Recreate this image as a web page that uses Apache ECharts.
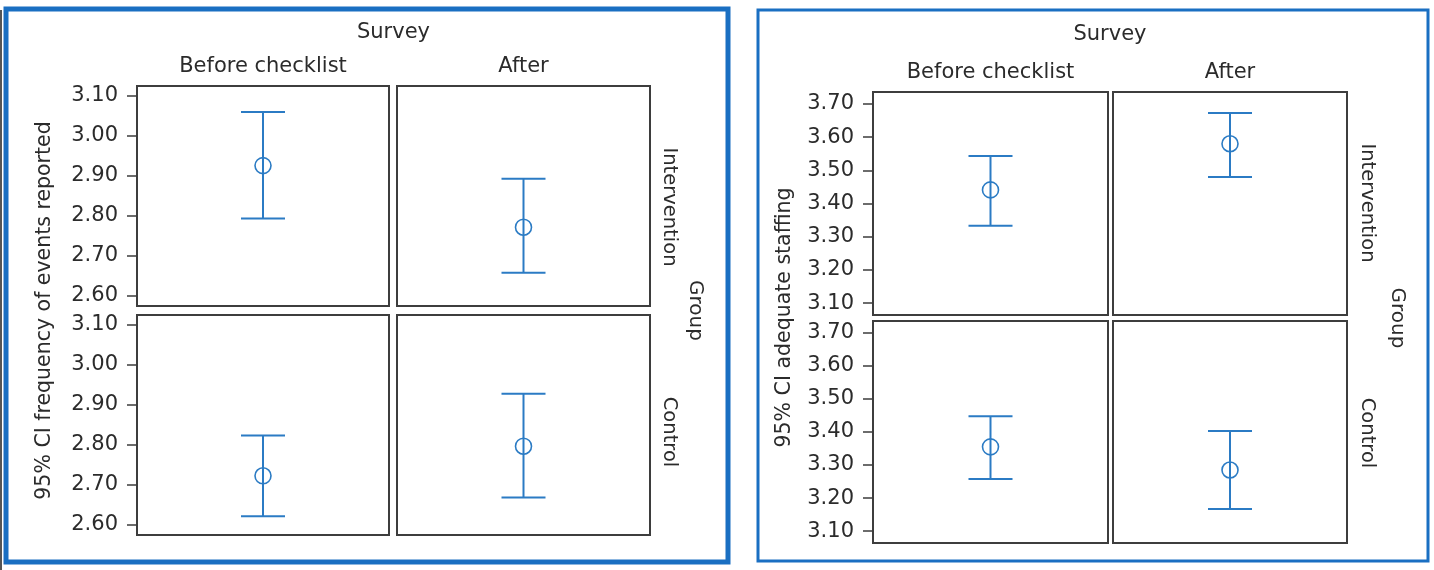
<!DOCTYPE html>
<html lang="en">
  <head>
    <meta charset="UTF-8" />
    <title>95% CI by survey and group</title>
    <script src="https://cdn.jsdelivr.net/npm/echarts@6/dist/echarts.min.js"></script>
    <style>
      html, body { margin: 0; padding: 0; background: #fff; }
      #main { width: 1434px; height: 570px; }
    </style>
  </head>
  <body>
    <div id="main"></div>
    <script type="text/javascript">
      // survey columns and group rows
      const surveys = ["Before checklist", "After"];
      const groups = ["Intervention", "Control"];

      // frequency of events reported, [group][survey]
      const eventsMean = [[2.926, 2.772], [2.723, 2.797]];
      const eventsLow = [[2.794, 2.658], [2.622, 2.669]];
      const eventsHigh = [[3.06, 2.893], [2.824, 2.928]];
      const eventsTicks = [2.6, 2.7, 2.8, 2.9, 3.0, 3.1];

      // adequate staffing, [group][survey]
      const staffMean = [[3.441, 3.58], [3.355, 3.285]];
      const staffLow = [[3.333, 3.48], [3.258, 3.167]];
      const staffHigh = [[3.543, 3.673], [3.448, 3.403]];
      const staffTicks = [3.1, 3.2, 3.3, 3.4, 3.5, 3.6, 3.7];

      const FONT = "DejaVu Sans";
      const TEXT = "#2b2b2b";
      const BLUE = "#2b7bc4";

      // layout of each panel (pixels)
      const panels = [
        {
          yName: "95% CI frequency of events reported",
          mean: eventsMean, low: eventsLow, high: eventsHigh, ticks: eventsTicks,
          min: 2.575, max: 3.125,
          cols: [[137, 252], [397, 253]],
          rows: [[86, 220], [315, 220]],
          rowLabelY: [207, 432],
          surveyY: 33, nameX: 45, rowLabelX: 669, groupX: 695,
        },
        {
          yName: "95% CI adequate staffing",
          mean: staffMean, low: staffLow, high: staffHigh, ticks: staffTicks,
          min: 3.064, max: 3.736,
          cols: [[873, 235], [1113, 234]],
          rows: [[92, 223], [321, 222]],
          rowLabelY: [203, 433],
          surveyY: 35, nameX: 785, rowLabelX: 1367, groupX: 1397,
        },
      ];

      function renderBar(params, api) {
        const x = api.value(0);
        const c = api.coord([x, api.value(1)]);
        const lo = api.coord([x, api.value(2)]);
        const hi = api.coord([x, api.value(3)]);
        const half = 22;
        const st = { stroke: BLUE, lineWidth: 2, fill: null };
        return {
          type: "group",
          children: [
            { type: "line", shape: { x1: c[0], y1: hi[1], x2: c[0], y2: lo[1] }, style: st },
            { type: "line", shape: { x1: c[0] - half, y1: hi[1], x2: c[0] + half, y2: hi[1] }, style: st },
            { type: "line", shape: { x1: c[0] - half, y1: lo[1], x2: c[0] + half, y2: lo[1] }, style: st },
            { type: "circle", shape: { cx: c[0], cy: c[1], r: 8 }, style: { stroke: BLUE, lineWidth: 1.6, fill: null } },
          ],
        };
      }

      const grid = [], xAxis = [], yAxis = [], series = [], graphic = [];

      // panel frames
      graphic.push(
        { type: "rect", shape: { x: 6, y: 9, width: 722, height: 553 }, style: { fill: null, stroke: "#1a6fc2", lineWidth: 5 } },
        { type: "rect", shape: { x: 758, y: 10, width: 670, height: 551 }, style: { fill: null, stroke: "#1a6fc2", lineWidth: 3 } },
        { type: "rect", shape: { x: 0, y: 10, width: 2, height: 560 }, style: { fill: "#555" } }
      );

      function txt(text, size) {
        return { text: text, fontFamily: FONT, fontSize: size, fill: TEXT, align: "center", verticalAlign: "middle" };
      }

      panels.forEach(function (p) {
        const left = p.cols[0][0];
        const right = p.cols[1][0] + p.cols[1][1];
        const top = p.rows[0][0];
        const bottom = p.rows[1][0] + p.rows[1][1];

        graphic.push({ type: "text", x: (left + right) / 2, y: p.surveyY, style: txt("Survey", 21) });
        graphic.push({ type: "text", x: p.nameX, y: (top + bottom) / 2, rotation: Math.PI / 2, style: txt(p.yName, 20.5) });
        graphic.push({ type: "text", x: p.groupX, y: (p.rows[0][0] + p.rows[0][1] + p.rows[1][0]) / 2, rotation: -Math.PI / 2, style: txt("Group", 20) });

        groups.forEach(function (g, gi) {
          const row = p.rows[gi];
          graphic.push({ type: "text", x: p.rowLabelX, y: p.rowLabelY[gi], rotation: -Math.PI / 2, style: txt(g, 19.5) });

          surveys.forEach(function (s, si) {
            const col = p.cols[si];
            const idx = grid.length;
            grid.push({
              left: col[0], top: row[0], width: col[1], height: row[1],
              show: true, borderColor: "#3d3d3d", borderWidth: 2, backgroundColor: "#fff",
            });
            xAxis.push({
              gridIndex: idx, type: "category", data: [s], position: "top",
              axisLine: { show: false }, axisTick: { show: false }, splitLine: { show: false },
              axisLabel: { show: gi === 0, margin: 9, fontFamily: FONT, fontSize: 21, color: TEXT },
            });
            yAxis.push({
              gridIndex: idx, type: "value", min: p.min, max: p.max,
              axisLine: { show: false }, splitLine: { show: false },
              axisTick: { show: si === 0, length: 10, customValues: p.ticks, lineStyle: { color: "#3d3d3d", width: 1.5 } },
              axisLabel: {
                show: si === 0, margin: 19, customValues: p.ticks,
                fontFamily: FONT, fontSize: 21, color: TEXT,
                formatter: function (v) { return v.toFixed(2); },
              },
            });
            series.push({
              type: "custom", xAxisIndex: idx, yAxisIndex: idx,
              renderItem: renderBar, animation: false, silent: true,
              encode: { x: 0, y: 1 },
              data: [[0, p.mean[gi][si], p.low[gi][si], p.high[gi][si]]],
            });
          });
        });
      });

      const chart = echarts.init(document.getElementById("main"), null, { renderer: "canvas" });
      chart.setOption({
        backgroundColor: "#fff",
        animation: false,
        grid: grid,
        xAxis: xAxis,
        yAxis: yAxis,
        series: series,
        graphic: graphic,
      });
    </script>
  </body>
</html>
